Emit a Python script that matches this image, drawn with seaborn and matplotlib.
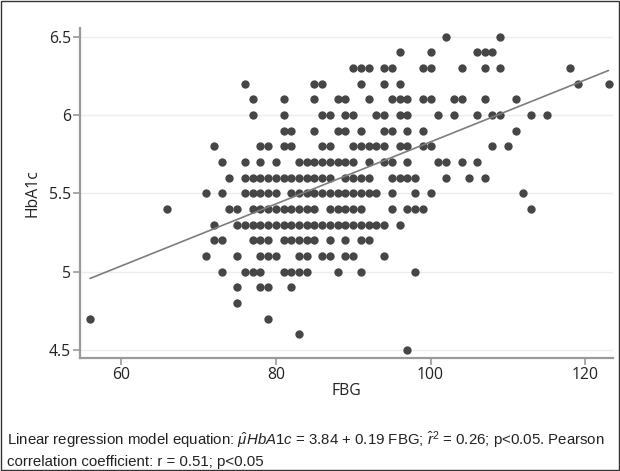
import pandas as pd
import seaborn as sns
import matplotlib.pyplot as plt
from matplotlib.patches import Rectangle

fbg_6_5 = [102, 109]
fbg_6_4 = [96, 100, 106, 107, 108]
fbg_6_3 = [90, 91, 92, 94, 95, 99, 100, 104, 107, 109, 118]
fbg_6_2 = [76, 85, 86, 91, 94, 96, 119, 123]
fbg_6_1 = [77, 81, 85, 88, 89, 92, 95, 96, 97, 99, 100, 103, 104, 107, 111]
fbg_6_0 = [77, 81, 86, 87, 89, 90, 93, 94, 96, 97, 101, 103, 106, 108, 109, 113, 115]
fbg_5_9 = [81, 82, 85, 88, 89, 91, 94, 95, 97, 99, 111]
fbg_5_8 = [72, 78, 79, 81, 82, 86, 87, 90, 91, 92, 93, 94, 96, 97, 99, 100, 108, 110]
fbg_5_7 = [73, 76, 78, 80, 83, 84, 85, 86, 87, 88, 89, 90, 92, 94, 95, 97, 101, 102, 104, 106]
fbg_5_6 = [74, 76, 77, 78, 79, 80, 81, 82, 83, 84, 85, 86, 87, 89, 90, 91, 92,
           95, 96, 97, 98, 102, 105, 107]
fbg_5_5 = [71, 73, 76, 77, 78, 79, 80, 82, 83, 84, 85, 86, 87, 88, 89, 90, 91, 92, 93,
           95, 98, 100, 112]
fbg_5_4 = [66, 74, 75, 77, 78, 79, 80, 81, 82, 83, 84, 85, 87, 88, 89, 90, 91,
           95, 97, 98, 99, 113]
fbg_5_3 = [72, 75, 76, 77, 78, 79, 80, 81, 82, 83, 84, 85, 86, 87, 88, 89, 90, 91, 92,
           93, 94, 96]
fbg_5_2 = [72, 73, 77, 78, 79, 81, 82, 83, 84, 85, 87, 89, 91, 92]
fbg_5_1 = [71, 75, 78, 79, 80, 83, 84, 86, 87, 89, 90, 94]
fbg_5_0 = [73, 76, 77, 78, 81, 82, 83, 84, 88, 91, 98]
fbg_4_9 = [75, 78, 79, 82]
fbg_4_8 = [75]
fbg_4_7 = [56, 79]
fbg_4_6 = [83]
fbg_4_5 = [97]

hba1c_levels = [6.5, 6.4, 6.3, 6.2, 6.1, 6.0, 5.9, 5.8, 5.7, 5.6, 5.5,
                5.4, 5.3, 5.2, 5.1, 5.0, 4.9, 4.8, 4.7, 4.6, 4.5]
fbg_rows = [fbg_6_5, fbg_6_4, fbg_6_3, fbg_6_2, fbg_6_1, fbg_6_0, fbg_5_9, fbg_5_8,
            fbg_5_7, fbg_5_6, fbg_5_5, fbg_5_4, fbg_5_3, fbg_5_2, fbg_5_1, fbg_5_0,
            fbg_4_9, fbg_4_8, fbg_4_7, fbg_4_6, fbg_4_5]

x_ticks = [60, 80, 100, 120]
y_ticks = [4.5, 5, 5.5, 6, 6.5]
y_tick_labels = ["4.5", "5", "5.5", "6", "6.5"]

caption = ("Linear regression model equation: $\\hat{\\mu}\\mathit{HbA1c}$ = 3.84 + 0.19 FBG; "
           "$\\hat{r}^2$ = 0.26; p<0.05. Pearson\ncorrelation coefficient: r = 0.51; p<0.05")

rows = []
for level, values in zip(hba1c_levels, fbg_rows):
    for v in values:
        rows.append({"FBG": v, "HbA1c": level})
df = pd.DataFrame(rows)

sns.set_style("white")
plt.rcParams["font.family"] = ["Open Sans", "DejaVu Sans"]
plt.rcParams["mathtext.fontset"] = "custom"
plt.rcParams["mathtext.rm"] = "Liberation Sans"
plt.rcParams["mathtext.it"] = "Liberation Sans:italic"

fig = plt.figure(figsize=(6.2, 4.71), dpi=100)
ax = fig.add_axes([0.129, 0.240, 0.860, 0.700])

sns.scatterplot(data=df, x="FBG", y="HbA1c", ax=ax, color="#464646", s=36,
                linewidth=0, zorder=3)
sns.regplot(data=df, x="FBG", y="HbA1c", ax=ax, scatter=False, ci=None,
            line_kws={"color": "#7d7d7d", "linewidth": 1.2, "zorder": 4})

ax.set_xlim(54.7, 123.6)
ax.set_ylim(4.449, 6.553)
ax.set_xticks(x_ticks)
ax.set_yticks(y_ticks)
ax.set_yticklabels(y_tick_labels)
ax.grid(axis="y", color="#ececec", linewidth=1.0)
ax.grid(axis="x", visible=False)
ax.set_axisbelow(True)

for side in ["top", "right"]:
    ax.spines[side].set_visible(False)
for side in ["left", "bottom"]:
    ax.spines[side].set_color("#9a9a9a")
    ax.spines[side].set_linewidth(1.6)

ax.tick_params(axis="both", which="major", direction="out", length=5, width=1.2,
               color="#9a9a9a", labelsize=11.3, labelcolor="#222222", pad=1.5,
               left=True, bottom=True)
ax.set_xlabel("FBG", fontsize=11.3, color="#222222", labelpad=0)
ax.set_ylabel("HbA1c", fontsize=11.3, color="#222222", labelpad=6)

fig.text(0.011, 0.005, caption, fontsize=10.8, color="#222222",
         family=["Liberation Sans", "DejaVu Sans"],
         va="bottom", ha="left", linespacing=1.35)

fig.patches.append(Rectangle((0.002, 0.002), 0.996, 0.996, transform=fig.transFigure,
                             fill=False, edgecolor="#333333", linewidth=1.0))

fig.savefig("out.png", dpi=100)
plt.close()
